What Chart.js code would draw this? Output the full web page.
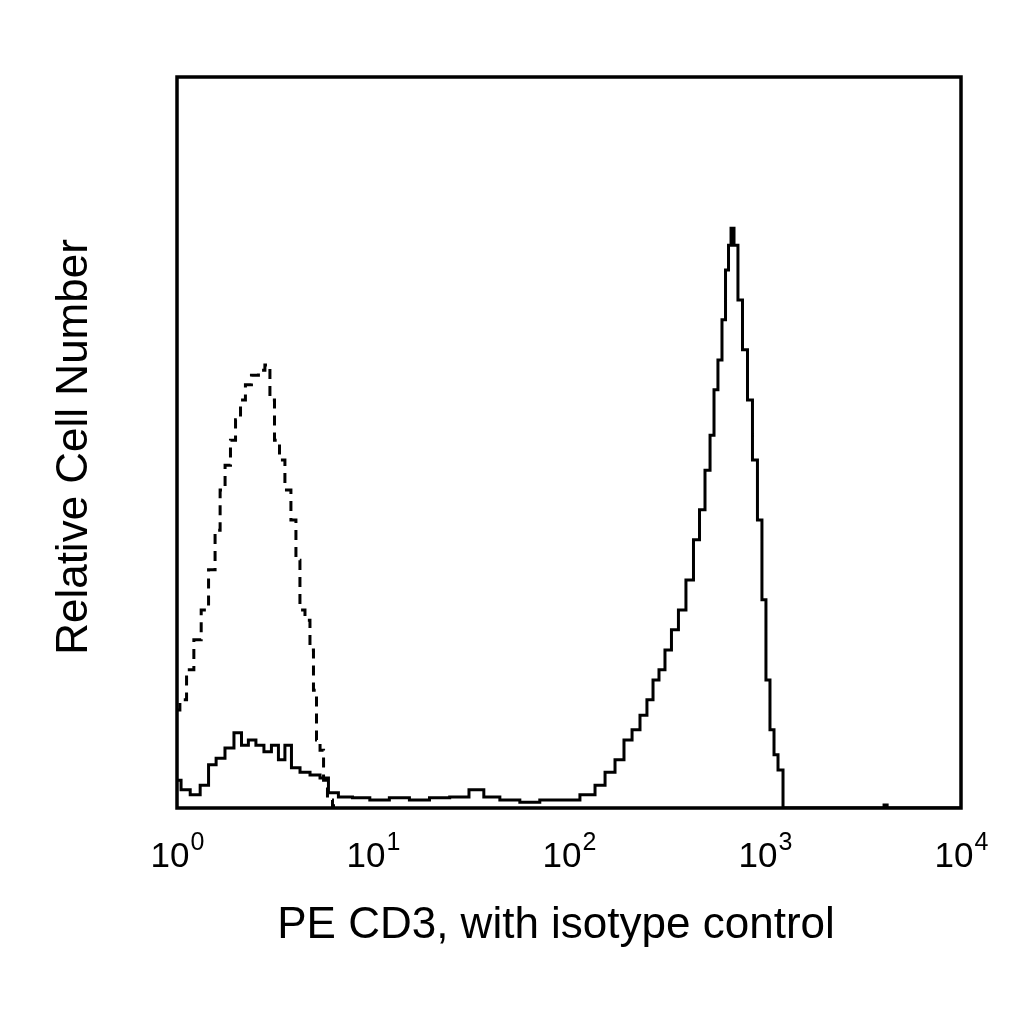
<!DOCTYPE html>
<html>
<head>
<meta charset="utf-8">
<script src="https://cdn.jsdelivr.net/npm/chart.js@4/dist/chart.umd.min.js"></script>
<style>
html, body { margin: 0; padding: 0; background: #fff; }
#wrap { width: 1024px; height: 1024px; }
</style>
</head>
<body>
<div id="wrap"><canvas id="chart"></canvas></div>
<script>
// values: x in PE intensity (log), y in % of full scale
const decadeTicks = [1, 10, 100, 1000, 10000];
const xTitle = 'PE CD3, with isotype control';
const yTitle = 'Relative Cell Number';

const cd3X = [1.00, 1.10, 1.24, 1.39, 1.51, 1.66, 1.86, 2.05, 2.22, 2.41, 2.65, 2.91, 3.16, 3.43, 3.68, 4.00, 4.50, 5.06, 5.69, 6.17, 7.19, 8.59, 10.8, 13.6, 17.3, 21.8, 27.8, 34.3, 39.4, 50.0, 63.0, 79.9, 101, 128, 144, 162, 182, 200, 220, 241, 259, 278, 298, 320, 347, 377, 414, 450, 477, 512, 537, 562, 589, 618, 640, 663, 679, 711, 745, 791, 838, 889, 942, 988, 1035, 1086, 1138, 1193, 1280, 2500, 4000, 4100, 4300, 7000, 10000];
const cd3Y = [3.8, 2.5, 1.8, 3.1, 5.9, 6.8, 8.2, 10.3, 8.6, 9.3, 8.6, 7.7, 8.6, 6.6, 8.6, 5.5, 4.9, 4.5, 4.1, 2.1, 1.5, 1.4, 1.1, 1.4, 1.1, 1.4, 1.5, 2.5, 1.5, 1.1, 0.8, 1.1, 1.1, 1.8, 3.1, 4.9, 6.6, 9.3, 10.7, 12.7, 14.8, 17.5, 18.9, 21.6, 24.4, 27.1, 31.2, 36.7, 40.8, 46.2, 51.0, 57.2, 61.3, 66.8, 73.6, 77.0, 79.3, 77.0, 69.5, 62.7, 55.8, 47.6, 39.4, 28.5, 17.5, 10.7, 7.3, 5.2, 0, 0, 0, 0.4, 0, 0, 0];

const isoX = [1.00, 1.07, 1.17, 1.27, 1.39, 1.51, 1.62, 1.70, 1.82, 1.93, 2.05, 2.17, 2.30, 2.50, 2.71, 2.91, 3.05, 3.24, 3.43, 3.68, 3.95, 4.14, 4.34, 4.66, 4.88, 5.06, 5.24, 5.50, 5.69, 6.03, 6.40];
const isoY = [13.4, 14.8, 18.9, 23.0, 27.1, 32.6, 38.0, 43.5, 46.9, 50.3, 53.1, 55.8, 57.9, 59.2, 59.9, 60.6, 55.8, 50.3, 47.6, 43.5, 39.4, 33.9, 27.1, 25.7, 21.6, 16.1, 9.3, 7.9, 3.8, 1.1, 0.3];

function toPoints(xs, ys) {
    return xs.map((x, i) => ({ x: x, y: ys[i] }));
}

const decorations = {
    id: 'decorations',
    afterDraw(chart) {
        const ctx = chart.ctx;
        const a = chart.chartArea;
        const xs = chart.scales.x;
        ctx.save();
        ctx.strokeStyle = '#000';
        ctx.lineWidth = 3.5;
        ctx.strokeRect(a.left, a.top, a.right - a.left, a.bottom - a.top);

        ctx.fillStyle = '#000';
        ctx.textBaseline = 'alphabetic';
        decadeTicks.forEach((v, i) => {
            const px = xs.getPixelForValue(v);
            ctx.font = '35px "Liberation Sans", Arial, sans-serif';
            const w1 = ctx.measureText('10').width;
            ctx.font = '25px "Liberation Sans", Arial, sans-serif';
            const w2 = ctx.measureText(String(i)).width;
            const start = px - (w1 + w2) / 2;
            ctx.font = '35px "Liberation Sans", Arial, sans-serif';
            ctx.textAlign = 'left';
            ctx.fillText('10', start, 867);
            ctx.font = '25px "Liberation Sans", Arial, sans-serif';
            ctx.fillText(String(i), start + w1 + 1, 850);
        });

        ctx.font = '44px "Liberation Sans", Arial, sans-serif';
        ctx.textAlign = 'center';
        ctx.fillText(xTitle, 556, 938);

        ctx.translate(87, 447);
        ctx.rotate(-Math.PI / 2);
        ctx.fillText(yTitle, 0, 0);
        ctx.restore();
    }
};

new Chart(document.getElementById('chart'), {
    type: 'line',
    data: {
        datasets: [
            {
                label: 'CD3',
                data: toPoints(cd3X, cd3Y),
                borderColor: '#000',
                borderWidth: 3,
                pointRadius: 0,
                tension: 0,
                stepped: 'middle'
            },
            {
                label: 'Isotype',
                data: toPoints(isoX, isoY),
                borderColor: '#000',
                borderWidth: 3,
                borderDash: [10, 7],
                pointRadius: 0,
                tension: 0,
                stepped: 'middle'
            }
        ]
    },
    options: {
        responsive: true,
        maintainAspectRatio: false,
        animation: false,
        layout: { padding: { left: 177, right: 63, top: 77, bottom: 216 } },
        plugins: { legend: { display: false }, tooltip: { enabled: false } },
        scales: {
            x: { type: 'logarithmic', min: 1, max: 10000, display: false },
            y: { type: 'linear', min: 0, max: 100, display: false }
        }
    },
    plugins: [decorations]
});
</script>
</body>
</html>
